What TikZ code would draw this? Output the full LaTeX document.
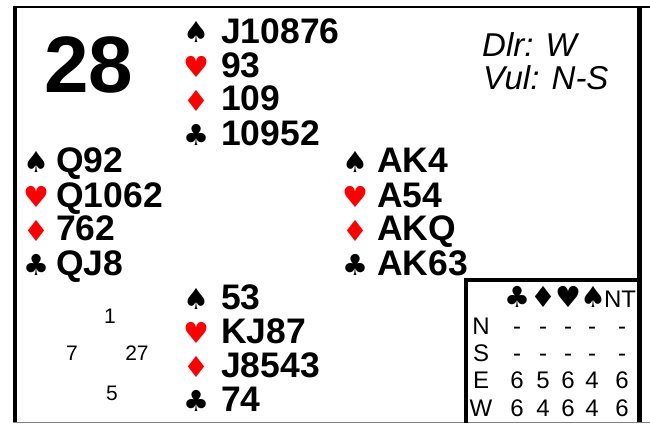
\documentclass[tikz,border=0pt]{standalone}
\usepackage{fontspec}
\setmainfont{Liberation Sans}
\newfontfamily\symfont{DejaVu Sans}
\definecolor{suitred}{RGB}{255,0,0}
\begin{document}
\begin{tikzpicture}[x=1pt,y=-1pt,
  holding/.style={inner sep=0pt,anchor=base west,font=\fontsize{35.5}{35.5}\selectfont\bfseries},
  suit/.style={inner sep=0pt,anchor=base,font=\fontsize{29}{29}\symfont},
  redsuit/.style={suit,text=suitred},
  info/.style={inner sep=0pt,anchor=base west,font=\fontsize{33}{33}\selectfont\itshape},
  hcp/.style={inner sep=0pt,anchor=base,font=\fontsize{21}{21}\selectfont},
  dd/.style={inner sep=0pt,anchor=base,font=\fontsize{24}{24}\selectfont},
  ddsuit/.style={inner sep=0pt,anchor=base,font=\fontsize{29}{29}\symfont},
  frame/.style={line width=4pt}]
\useasboundingbox (0,0) rectangle (650,423);
\fill[white] (0,0) rectangle (650,423);
% frame
\draw[line width=2.5pt] (13,7) -- (650,7);
\draw[frame] (15,6) -- (15,423);
\draw[line width=5pt] (639,6) -- (639,423);
\draw[line width=1pt,gray] (13,422.5) -- (650,422.5);
% DD box
\draw[frame] (466,280) -- (641,280);
\draw[frame] (466,278) -- (466,423);
% board number
\node[inner sep=0pt,anchor=base,font=\fontsize{80}{80}\selectfont\bfseries] (board) at (89,92) {28};
% dealer / vul
\node[info] (dlr) at (482,56) {Dlr: W};
\node[info] (vul) at (483,89) {Vul: N-S};
% North
\node[suit] (ns) at (196,42) {♠};
\node[redsuit] (nh) at (196,77) {♥};
\node[redsuit] (nd) at (196,111) {♦};
\node[suit] (nc) at (196,145) {♣};
\node[holding] (nS) at (221,43) {J10876};
\node[holding] (nH) at (221,77) {93};
\node[holding] (nD) at (221,110) {109};
\node[holding] (nC) at (221,145) {10952};
% West
\node[suit] (ws) at (36,172) {♠};
\node[redsuit] (wh) at (36,207) {♥};
\node[redsuit] (wd) at (36,241) {♦};
\node[suit] (wc) at (36,275) {♣};
\node[holding] (wS) at (56,172) {Q92};
\node[holding] (wH) at (56,207) {Q1062};
\node[holding] (wD) at (56,240) {762};
\node[holding] (wC) at (56,275) {QJ8};
% East
\node[suit] (es) at (355,172) {♠};
\node[redsuit] (eh) at (355,207) {♥};
\node[redsuit] (ed) at (355,241) {♦};
\node[suit] (ec) at (355,275) {♣};
\node[holding] (eS) at (377,172) {AK4};
\node[holding] (eH) at (377,207) {A54};
\node[holding] (eD) at (377,240) {AKQ};
\node[holding] (eC) at (377,275) {AK63};
% South
\node[suit] (ss) at (196,309) {♠};
\node[redsuit] (sh) at (196,343) {♥};
\node[redsuit] (sd) at (196,377) {♦};
\node[suit] (sc) at (196,411) {♣};
\node[holding] (sS) at (221,309) {53};
\node[holding] (sH) at (221,343) {KJ87};
\node[holding] (sD) at (221,377) {J8543};
\node[holding] (sC) at (221,411) {74};
% HCP
\node[hcp] (hn) at (110,323) {1};
\node[hcp] (hw) at (72,360) {7};
\node[hcp] (he) at (137,360) {27};
\node[hcp] (hs) at (112,400) {5};
% DD table
\node[ddsuit] (dc) at (517,307) {♣};
\node[ddsuit] (dd) at (543,307) {♦};
\node[ddsuit] (dh) at (568,307) {♥};
\node[ddsuit] (dsp) at (593,307) {♠};
\node[dd] (dnt) at (620,307) {NT};
\foreach \r/\y/\a/\b/\c/\d/\e in {N/334/-/-/-/-/-, S/361/-/-/-/-/-, E/388/6/5/6/4/6, W/416/6/4/6/4/6}{
  \node[dd] (r\r) at (481,\y) {\r};
  \node[dd] (r\r c) at (517,\y) {\a};
  \node[dd] (r\r d) at (543,\y) {\b};
  \node[dd] (r\r h) at (568,\y) {\c};
  \node[dd] (r\r s) at (592,\y) {\d};
  \node[dd] (r\r n) at (622,\y) {\e};
}
\end{tikzpicture}
\end{document}
